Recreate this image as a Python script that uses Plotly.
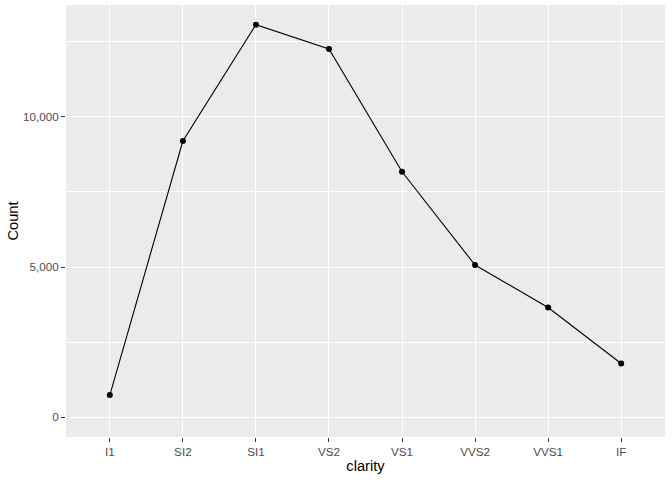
import plotly.graph_objects as go

clarity = ["I1", "SI2", "SI1", "VS2", "VS1", "VVS2", "VVS1", "IF"]
counts = [741, 9194, 13065, 12258, 8171, 5066, 3655, 1790]
y_ticks = [0, 5000, 10000]
y_tick_labels = ["0", "5,000", "10,000"]

fig = go.Figure(go.Scatter(
    x=clarity, y=counts, mode="lines+markers",
    line=dict(color="black", width=1.1),
    marker=dict(color="black", size=6),
    cliponaxis=False,
))

font = "Liberation Sans, Arial, sans-serif"
fig.update_layout(
    width=672, height=480,
    margin=dict(l=66, r=7, t=5, b=43, autoexpand=False),
    paper_bgcolor="white", plot_bgcolor="#EBEBEB",
    showlegend=False,
    font=dict(family=font, color="black"),
)
fig.update_xaxes(
    type="category", range=[-0.6, 7.6], automargin=False,
    showgrid=True, gridcolor="white", gridwidth=1.1,
    ticks="outside", ticklen=4, tickcolor="#333333", tickwidth=1.1,
    tickfont=dict(size=11.7, color="#4D4D4D", family=font),
    title=dict(text="clarity", font=dict(size=14.7, color="black", family=font), standoff=3),
    zeroline=False, showline=False,
)
fig.update_yaxes(
    range=[-653, 13718], automargin=False,
    tickvals=y_ticks, ticktext=y_tick_labels,
    showgrid=True, gridcolor="white", gridwidth=1.1,
    minor=dict(tickvals=[2500, 7500, 12500], showgrid=True, gridcolor="white", gridwidth=0.55, ticks=""),
    ticks="outside", ticklen=4, tickcolor="#333333", tickwidth=1.1,
    tickfont=dict(size=11.7, color="#4D4D4D", family=font),
    title=dict(text="Count", font=dict(size=14.7, color="black", family=font), standoff=0),
    zeroline=False, showline=False,
)
fig.write_html("out.html", config={"displayModeBar": False},
               post_script="document.body.style.margin='0';")
